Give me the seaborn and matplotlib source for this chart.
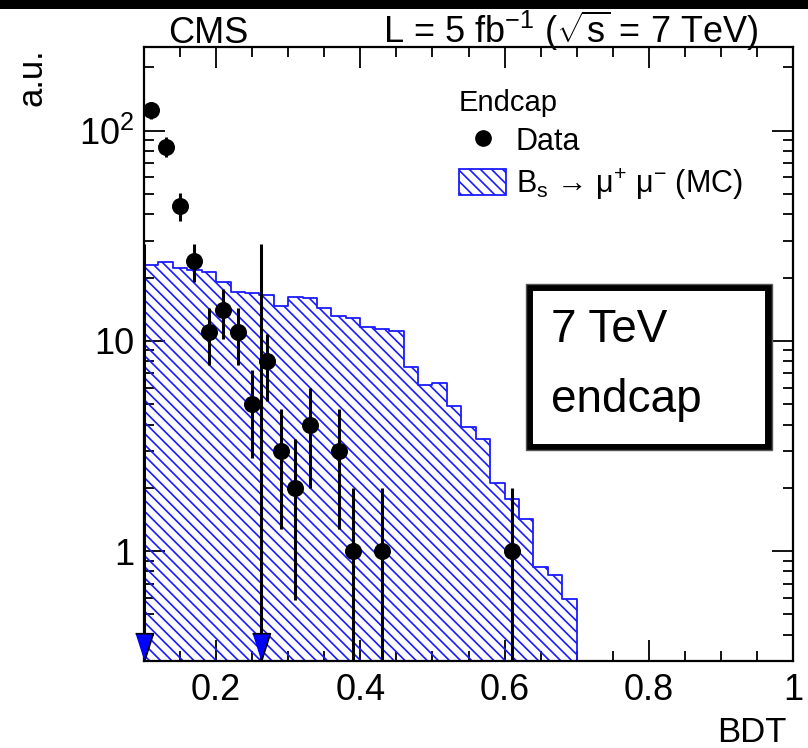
import numpy as np
import pandas as pd
import matplotlib
matplotlib.use("Agg")
import matplotlib.pyplot as plt
import seaborn as sns
from matplotlib.patches import Patch, Rectangle
from matplotlib.lines import Line2D
from matplotlib.ticker import FixedLocator, FixedFormatter, MultipleLocator, LogLocator, NullFormatter

# ---------------- data ----------------
bin_low = 0.10
bin_width = 0.02
mc_values = [22.9, 23.6, 22.1, 21.8, 21.3, 19.1, 17.1, 16.9, 16.6, 14.6,
             16.2, 16.0, 14.4, 13.1, 12.9, 11.6, 11.4, 11.2, 7.5, 6.2,
             6.3, 4.9, 3.9, 3.4, 2.1, 1.77, 1.42, 0.84, 0.77, 0.59]

data_bdt = [0.11, 0.13, 0.15, 0.17, 0.19, 0.21, 0.23, 0.25, 0.27, 0.29,
            0.31, 0.33, 0.37, 0.39, 0.43, 0.61]
data_counts = [125, 84, 44, 24, 11, 14, 11, 5, 8, 3, 2, 4, 3, 1, 1, 1]
data_err = np.sqrt(np.array(data_counts, dtype=float))

arrow_bdt = [0.10, 0.262]
arrow_top = [29, 29]

x_ticks = [0.2, 0.4, 0.6, 0.8, 1.0]
x_tick_labels = ["0.2", "0.4", "0.6", "0.8", "1"]
y_ticks = [1, 10, 100]
y_tick_labels = ["1", "10", "10$^{2}$"]

X_RANGE = (0.10, 1.0)
Y_RANGE = (0.3, 250)

# ---------------- style ----------------
sns.set_theme(style="ticks")
plt.rcParams["font.family"] = ["Liberation Sans", "DejaVu Sans"]
plt.rcParams["mathtext.fontset"] = "custom"
plt.rcParams["mathtext.rm"] = "Liberation Sans"
plt.rcParams["mathtext.it"] = "Liberation Sans:italic"
plt.rcParams["mathtext.bf"] = "Liberation Sans:bold"
plt.rcParams["hatch.linewidth"] = 1.2
plt.rcParams["hatch.color"] = "#0000ff"
for k in ["text.color", "axes.labelcolor", "xtick.color", "ytick.color",
          "axes.edgecolor", "legend.labelcolor"]:
    plt.rcParams[k] = "black"

W, H = 808, 748
fig = plt.figure(figsize=(W / 100, H / 100), dpi=100)
fig.patch.set_facecolor("white")
L, R, B, T = 144, 793, 661, 47
ax = fig.add_axes([L / W, 1 - B / H, (R - L) / W, (B - T) / H])
ax.set_yscale("log")

HATCH = "\\\\\\"

# ---------------- MC histogram ----------------
n_bins = len(mc_values)
mc_centers = bin_low + bin_width * (np.arange(n_bins) + 0.5)
mc_df = pd.DataFrame({"bdt": mc_centers, "weight": mc_values})
sns.histplot(data=mc_df, x="bdt", weights="weight", binwidth=bin_width,
             binrange=(bin_low, bin_low + bin_width * n_bins),
             element="step", fill=True, color="#0000ff", ax=ax, linewidth=1.3)
coll = ax.collections[-1]
coll.set_facecolor("none")
coll.set_edgecolor("#1a1aff")
coll.set_hatch(HATCH)
coll.set_linewidth(1.3)

# ---------------- data points ----------------
ax.errorbar(data_bdt, data_counts, yerr=data_err, fmt="none",
            ecolor="black", elinewidth=2.2, capsize=0, zorder=4)
data_df = pd.DataFrame({"bdt": data_bdt, "n": data_counts})
sns.scatterplot(data=data_df, x="bdt", y="n", color="black", s=150,
                edgecolor="black", linewidth=0, ax=ax, zorder=5)

# arrows
ax.vlines(arrow_bdt, Y_RANGE[0], arrow_top, color="black", lw=2.2, zorder=4)
tri = [(-0.32, 1.0), (0.32, 1.0), (0.0, 0.0)]
ax.scatter(arrow_bdt, [Y_RANGE[0]] * len(arrow_bdt), marker=tri, s=1600,
           facecolor="#0000ff", edgecolor="black", linewidth=1.2,
           zorder=6, clip_on=False)

# ---------------- axes ----------------
ax.set_xlim(*X_RANGE)
ax.set_ylim(*Y_RANGE)
ax.xaxis.set_major_locator(FixedLocator(x_ticks))
ax.xaxis.set_major_formatter(FixedFormatter(x_tick_labels))
ax.xaxis.set_minor_locator(MultipleLocator(0.05))
ax.yaxis.set_major_locator(FixedLocator(y_ticks))
ax.yaxis.set_major_formatter(FixedFormatter(y_tick_labels))
ax.yaxis.set_minor_locator(LogLocator(base=10, subs=np.arange(2, 10)))
ax.yaxis.set_minor_formatter(NullFormatter())
ax.tick_params(which="both", direction="in", top=True, right=True,
               colors="black", width=1.3, labelsize=26)
ax.tick_params(which="major", length=15)
ax.tick_params(which="minor", length=7.5)
ax.tick_params(axis="x", which="major", pad=9)
ax.tick_params(axis="y", which="major", pad=7)
for s in ax.spines.values():
    s.set_linewidth(1.6)
    s.set_color("black")

ax.set_xlabel("BDT", loc="right", fontsize=25)
ax.xaxis.label.set_va("baseline")
ax.xaxis.set_label_coords((786 - L) / (R - L), (B - 742) / (B - T))
ax.set_ylabel("a.u.", loc="top", fontsize=25)
ax.yaxis.set_label_coords((49 - L) / (R - L), (B - 48) / (B - T))

# ---------------- header ----------------
fig.text(208 / W, 1 - 43 / H, "CMS", ha="center", va="baseline", fontsize=26)
fig.text(758 / W, 1 - 43 / H, r"L = 5 fb$^{-1}$ ($\sqrt{\mathrm{s}}$ = 7 TeV)",
         ha="right", va="baseline", fontsize=26)

# ---------------- legend ----------------
handles = [
    Line2D([], [], marker="o", color="black", linestyle="none", markersize=11),
    Patch(facecolor="none", edgecolor="#1a1aff", hatch=HATCH, linewidth=1.3),
]
labels = ["Data", r"B$_{\mathrm{s}}$ → μ$^{+}$ μ$^{-}$ (MC)"]
leg = ax.legend(handles, labels, title="Endcap", loc="upper left",
                bbox_to_anchor=(459 / W, 1 - 89 / H), bbox_transform=fig.transFigure,
                frameon=False, fontsize=22, title_fontsize=21, alignment="left",
                borderpad=0, handlelength=1.55, handleheight=0.95,
                handletextpad=0.3, labelspacing=0.3, borderaxespad=0)

# ---------------- annotation box ----------------
box = Rectangle((529 / W, 1 - 447 / H), (768 - 529) / W, (447 - 287) / H,
                transform=fig.transFigure, facecolor="white", edgecolor="black",
                linewidth=5.0, zorder=10)
fig.add_artist(box)
box2 = Rectangle((526 / W, 1 - 450 / H), (772 - 526) / W, (450 - 284) / H,
                 transform=fig.transFigure, facecolor="none", edgecolor="#555555",
                 linewidth=1.0, zorder=10)
fig.add_artist(box2)
fig.text(551 / W, 1 - 342 / H, "7 TeV", ha="left", va="baseline", fontsize=33, zorder=11)
fig.text(551 / W, 1 - 412 / H, "endcap", ha="left", va="baseline", fontsize=33, zorder=11)

# screenshot border at the top
fig.add_artist(Rectangle((0, 1 - 9 / H), 1, 9 / H, transform=fig.transFigure,
                         facecolor="black", edgecolor="none", zorder=20))

fig.savefig("out.png", dpi=100)
